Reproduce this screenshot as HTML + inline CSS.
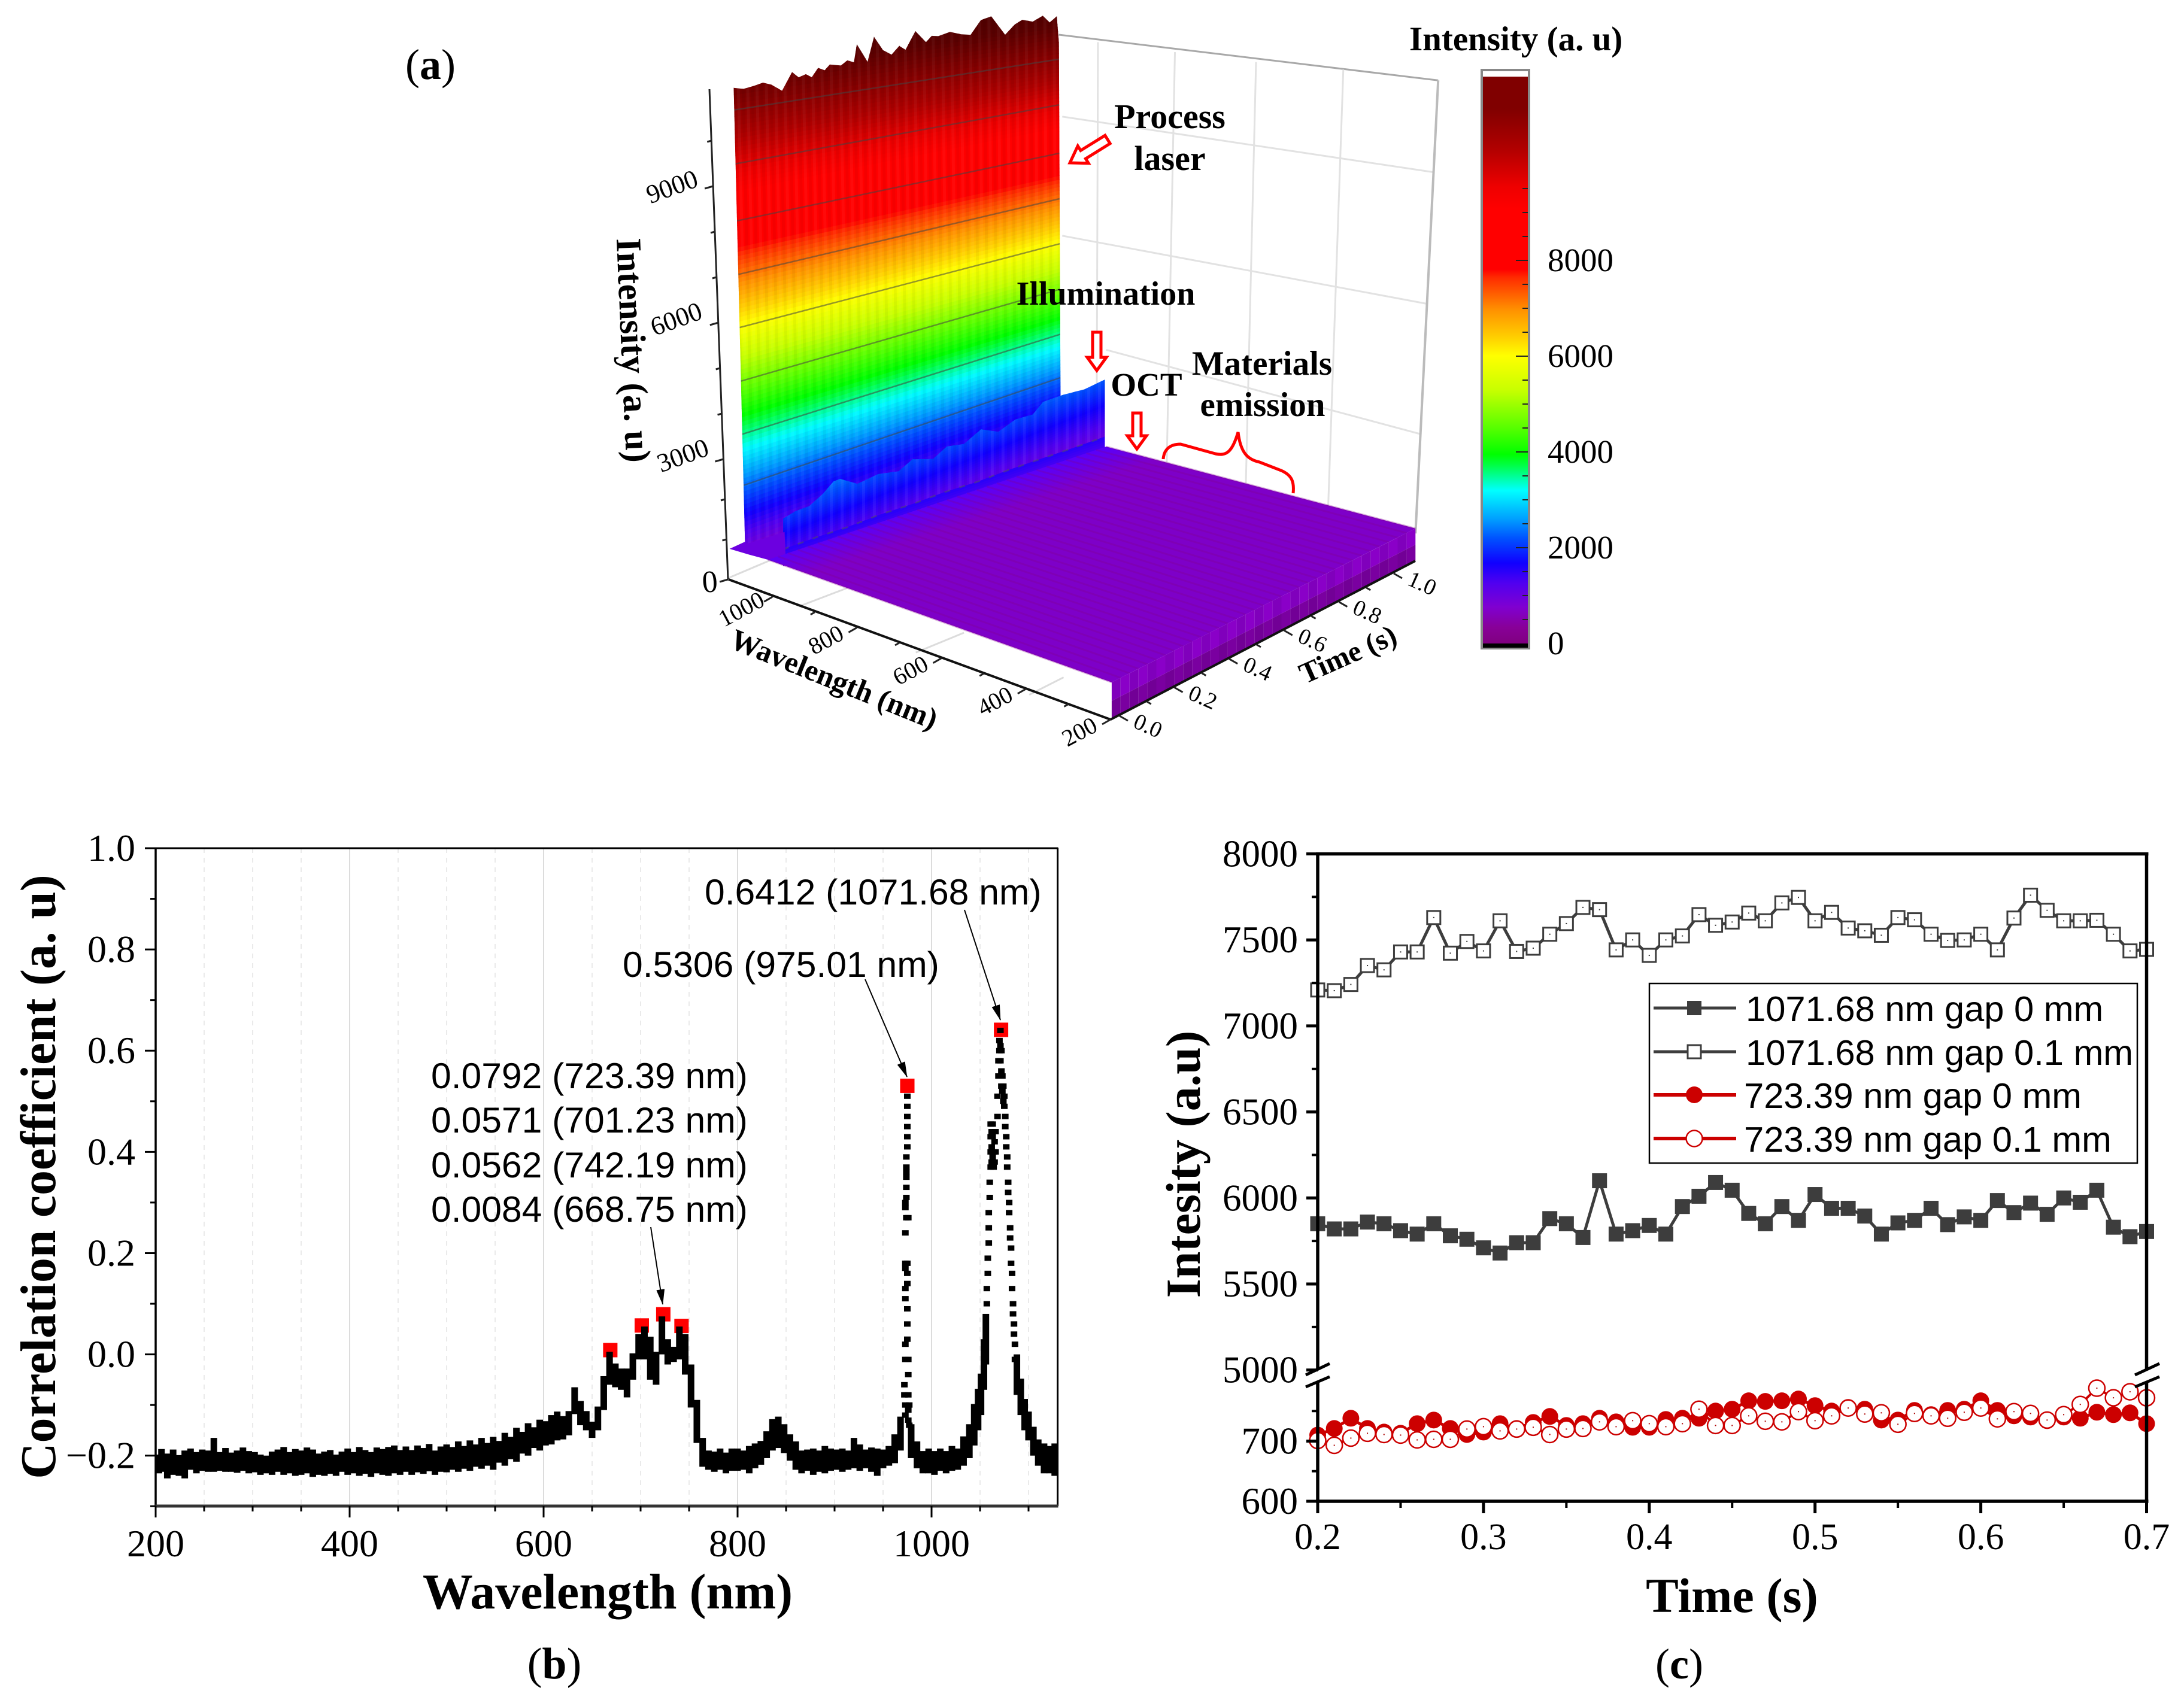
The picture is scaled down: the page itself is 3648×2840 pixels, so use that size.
<!DOCTYPE html>
<html lang="en">
<head>
<meta charset="utf-8">
<title>Spectral intensity and correlation figure</title>
<style>
html,body{margin:0;padding:0;background:#fff;}
svg{display:block;}
text{font-family:"Liberation Serif",serif;fill:#000;}
.sans{font-family:"Liberation Sans",sans-serif;}
</style>
</head>
<body>
<svg id="fig" xmlns="http://www.w3.org/2000/svg" width="3648" height="2840" viewBox="0 0 3648 2840">
<defs>
<marker id="ah" markerWidth="26" markerHeight="14" refX="25" refY="7" orient="auto" markerUnits="userSpaceOnUse"><path d="M0,0 L26,7 L0,14 Z" fill="#000"/></marker>
<linearGradient id="cbGrad" x1="0" y1="1" x2="0" y2="0"></linearGradient>
<linearGradient id="plateauGrad" gradientUnits="userSpaceOnUse" x1="1565" y1="841" x2="1579" y2="884"><stop offset="0" stop-color="#5a00f8"/><stop offset="1" stop-color="#7e00c8"/></linearGradient>
<clipPath id="wallClip"><polygon id="wallClipPoly" points="0,0"/></clipPath>
<clipPath id="ridgeClip"><polygon id="ridgeClipPoly" points="0,0"/></clipPath>
<clipPath id="octClip"><polygon id="octClipPoly" points="0,0"/></clipPath>
</defs>
<rect x="0" y="0" width="3648" height="2840" fill="#fff"/>

<g id="panelA"></g>
<g id="panelB"></g>
<g id="panelC"></g>

<g>
<text x="719" y="132" font-size="72" text-anchor="middle">(<tspan font-weight="bold">a</tspan>)</text>
<text x="2354" y="84" font-size="57" font-weight="bold">Intensity (a. u)</text>
<text x="1954" y="214" font-size="58" font-weight="bold" text-anchor="middle">Process</text>
<text x="1954" y="284" font-size="58" font-weight="bold" text-anchor="middle">laser</text>
<text x="1847" y="509" font-size="56" font-weight="bold" text-anchor="middle">Illumination</text>
<text x="1915" y="661" font-size="55" font-weight="bold" text-anchor="middle">OCT</text>
<text x="2108" y="626" font-size="57" font-weight="bold" text-anchor="middle">Materials</text>
<text x="2109" y="695" font-size="57" font-weight="bold" text-anchor="middle">emission</text>
<polygon transform="translate(1850,233) rotate(148.2)" points="0,-8 48,-8 48,-17 74,0 48,17 48,8 0,8" fill="#fff" stroke="#f00" stroke-width="5"/>
<polygon points="1825,555 1839,555 1839,597 1848,597 1832,619 1816,597 1825,597" fill="#fff" stroke="#f00" stroke-width="5"/>
<polygon points="1892,690 1906,690 1906,728 1915,728 1899,750 1883,728 1892,728" fill="#fff" stroke="#f00" stroke-width="5"/>
<path d="M1943,767 C1944,752 1953,742 1972,742 L2030,758 C2048,762 2058,756 2068,722 C2072,756 2084,768 2104,772 L2140,786 C2158,794 2162,805 2160,824" fill="none" stroke="#f00" stroke-width="5"/>
</g>

<g>
<text class="sans" x="1177" y="1511" font-size="60.6">0.6412 (1071.68 nm)</text>
<text class="sans" x="1040" y="1632" font-size="60.6">0.5306 (975.01 nm)</text>
<text class="sans" x="720" y="1818" font-size="60.6">0.0792 (723.39 nm)</text>
<text class="sans" x="720" y="1892" font-size="60.6">0.0571 (701.23 nm)</text>
<text class="sans" x="720" y="1967" font-size="60.6">0.0562 (742.19 nm)</text>
<text class="sans" x="720" y="2041" font-size="60.6">0.0084 (668.75 nm)</text>
<line x1="1611" y1="1520" x2="1671" y2="1704" stroke="#000" stroke-width="2" marker-end="url(#ah)"/>
<line x1="1445" y1="1636" x2="1515" y2="1799" stroke="#000" stroke-width="2" marker-end="url(#ah)"/>
<line x1="1087" y1="2050" x2="1107" y2="2179" stroke="#000" stroke-width="2" marker-end="url(#ah)"/>
<text x="1015" y="2687" font-size="84" font-weight="bold" text-anchor="middle">Wavelength (nm)</text>
<text transform="translate(92,1966) rotate(-90)" font-size="83.5" font-weight="bold" text-anchor="middle">Correlation coefficient (a. u)</text>
<text x="926" y="2804" font-size="74" text-anchor="middle">(<tspan font-weight="bold">b</tspan>)</text>
</g>

<g>
<text x="2893" y="2693" font-size="82" font-weight="bold" text-anchor="middle">Time (s)</text>
<text transform="translate(2004,1945) rotate(-90)" font-size="82" font-weight="bold" text-anchor="middle">Intesity (a.u)</text>
<text x="2805" y="2804" font-size="72" text-anchor="middle">(<tspan font-weight="bold">c</tspan>)</text>
</g>

<g id="legend">
<rect x="2755" y="1643" width="815" height="300" fill="#fff" stroke="#000" stroke-width="2.5"/>
<g>
<line x1="2762" y1="1684" x2="2900" y2="1684" stroke="#3d3d3d" stroke-width="5"/>
<rect x="2818" y="1672" width="24" height="24" fill="#3d3d3d"/>
<text class="sans" x="2916" y="1706" font-size="59.7">1071.68 nm gap 0 mm</text>
</g>
<g>
<line x1="2762" y1="1757" x2="2900" y2="1757" stroke="#3d3d3d" stroke-width="5"/>
<rect x="2819" y="1746" width="22" height="22" fill="#fff" stroke="#3d3d3d" stroke-width="3"/>
<text class="sans" x="2916" y="1779" font-size="59.7">1071.68 nm gap 0.1 mm</text>
</g>
<g>
<line x1="2762" y1="1829" x2="2900" y2="1829" stroke="#cc0000" stroke-width="6"/>
<circle cx="2830" cy="1829" r="14" fill="#cc0000"/>
<text class="sans" x="2913" y="1851" font-size="59.7">723.39 nm gap 0 mm</text>
</g>
<g>
<line x1="2762" y1="1902" x2="2900" y2="1902" stroke="#cc0000" stroke-width="6"/>
<circle cx="2830" cy="1902" r="13.5" fill="#fff" stroke="#cc0000" stroke-width="2.5"/>
<text class="sans" x="2913" y="1924" font-size="59.7">723.39 nm gap 0.1 mm</text>
</g>
</g>
</svg>

<script>
/* ---------- Panel (c) data ---------- */
const timeValues = [0.20,0.21,0.22,0.23,0.24,0.25,0.26,0.27,0.28,0.29,0.30,0.31,0.32,0.33,0.34,0.35,0.36,0.37,0.38,0.39,0.40,0.41,0.42,0.43,0.44,0.45,0.46,0.47,0.48,0.49,0.50,0.51,0.52,0.53,0.54,0.55,0.56,0.57,0.58,0.59,0.60,0.61,0.62,0.63,0.64,0.65,0.66,0.67,0.68,0.69,0.70];
const laserGap0 = [5850,5820,5820,5860,5850,5810,5790,5850,5780,5760,5710,5680,5740,5740,5880,5850,5770,6100,5790,5810,5840,5790,5950,6010,6090,6045,5910,5850,5950,5870,6020,5940,5940,5895,5790,5855,5870,5940,5845,5890,5870,5985,5915,5970,5905,6000,5975,6045,5830,5775,5805];
const laserGap01 = [7209,7205,7241,7351,7326,7430,7430,7630,7423,7491,7436,7611,7433,7452,7533,7595,7689,7676,7442,7500,7410,7500,7523,7647,7585,7604,7656,7611,7715,7747,7611,7660,7569,7553,7527,7630,7617,7533,7497,7500,7533,7442,7627,7760,7672,7611,7611,7614,7533,7436,7445];
const emissionGap0 = [710,721,738,721,715,713,729,735,721,711,715,729,721,731,741,726,729,738,732,723,723,736,738,738,750,753,767,766,767,770,759,750,756,753,735,735,751,744,751,753,767,751,742,740,734,740,738,748,744,747,729];
const emissionGap01 = [701,693,705,713,711,710,702,703,703,720,724,717,720,723,711,720,721,732,724,734,729,724,729,753,726,726,742,733,732,749,734,742,755,745,747,728,746,742,738,748,755,737,749,746,735,744,761,788,772,782,772];
const cXTicks = [0.2,0.3,0.4,0.5,0.6,0.7];
const cXMinorTicks = [0.25,0.35,0.45,0.55,0.65];
const cYUpperTicks = [5000,5500,6000,6500,7000,7500,8000];
const cYUpperMinor = [5250,5750,6250,6750,7250,7750];
const cYLowerTicks = [600,700];
const cYLowerMinor = [650,750];

/* ---------- Panel (b) data ---------- */
const bXTicks = [200,400,600,800,1000];
const bXMinorTicks = [250,300,350,450,500,550,650,700,750,850,900,950,1050,1100];
const bYTicks = [-0.2,0,0.2,0.4,0.6,0.8,1.0];
const bYMinorTicks = [-0.3,-0.1,0.1,0.3,0.5,0.7,0.9];
const peakWavelengths = [668.75,701.23,723.39,742.19,975.01,1071.68];
const peakValues = [0.0084,0.0571,0.0792,0.0562,0.5306,0.6412];
const bandWavelengths = [
200,206,212,218,224,230,236,242,248,254,
260,266,272,278,284,290,296,302,308,314,
320,326,332,338,344,350,356,362,368,374,
380,386,392,398,404,410,416,422,428,434,
440,446,452,458,464,470,476,482,488,494,
500,506,512,518,524,530,536,542,548,554,
560,566,572,578,584,590,596,602,608,614,
620,626,632,638,644,650,656,662,668,674,
680,686,692,698,704,710,716,722,728,734,
740,746,752,758,764,770,776,782,788,794,
800,806,812,818,824,830,836,842,848,854,
860,866,872,878,884,890,896,902,908,914,
920,926,932,938,944,950,956,962,968,
979,985,991,997,1003,1009,1015,1021,1027,1033,1039,1044,1048,1051,1054,1056,
1088,1092,1096,1100,1105,1110,1116,1122,1127];
const bandHigh = [
-.198,-.187,-.196,-.188,-.199,-.190,-.186,-.193,-.188,-.190,
-.165,-.193,-.185,-.194,-.190,-.184,-.191,-.193,-.198,-.200,
-.192,-.188,-.183,-.193,-.187,-.190,-.184,-.188,-.196,-.192,
-.189,-.198,-.192,-.186,-.193,-.183,-.189,-.193,-.184,-.187,
-.183,-.180,-.189,-.182,-.189,-.180,-.185,-.177,-.190,-.182,
-.178,-.183,-.172,-.181,-.170,-.178,-.165,-.175,-.163,-.171,
-.155,-.163,-.145,-.153,-.136,-.144,-.129,-.132,-.120,-.113,
-.122,-.112,-.065,-.092,-.112,-.133,-.103,-.043,.005,-.018,
-.028,-.028,.002,.040,.055,.035,.005,.075,.030,.015,
.055,.040,-.020,-.090,-.165,-.190,-.192,-.186,-.194,-.186,
-.186,-.190,-.181,-.176,-.171,-.152,-.128,-.123,-.138,-.158,
-.172,-.190,-.188,-.186,-.190,-.181,-.186,-.188,-.186,-.190,
-.165,-.178,-.188,-.184,-.186,-.188,-.181,-.158,-.123,
-.138,-.172,-.191,-.186,-.191,-.186,-.191,-.181,-.186,-.162,-.138,-.098,-.068,-.038,.030,.080,
.000,-.048,-.088,-.113,-.143,-.168,-.176,-.181,-.176];
const bandLow = [
-.235,-.232,-.245,-.238,-.240,-.245,-.228,-.235,-.230,-.232,
-.232,-.230,-.232,-.232,-.234,-.230,-.235,-.233,-.238,-.235,
-.238,-.232,-.238,-.235,-.240,-.238,-.235,-.242,-.238,-.240,
-.236,-.240,-.232,-.238,-.235,-.240,-.236,-.242,-.235,-.238,
-.240,-.235,-.238,-.232,-.238,-.233,-.236,-.231,-.238,-.232,
-.233,-.228,-.232,-.226,-.230,-.222,-.226,-.220,-.228,-.214,
-.220,-.207,-.212,-.196,-.200,-.185,-.190,-.180,-.178,-.170,
-.168,-.160,-.118,-.140,-.150,-.165,-.150,-.110,-.060,-.065,
-.070,-.085,-.050,-.010,-.010,-.050,-.060,.000,-.020,-.015,
-.010,-.040,-.105,-.175,-.222,-.228,-.232,-.228,-.235,-.230,
-.230,-.228,-.235,-.225,-.218,-.205,-.190,-.185,-.195,-.210,
-.228,-.235,-.230,-.238,-.232,-.235,-.230,-.228,-.232,-.228,
-.225,-.230,-.225,-.232,-.240,-.225,-.220,-.215,-.190,
-.205,-.225,-.235,-.235,-.238,-.230,-.235,-.230,-.228,-.220,-.205,-.180,-.150,-.120,-.070,-.020,
-.080,-.120,-.150,-.170,-.200,-.220,-.235,-.235,-.240];
const scatterWavelengths = [
1057,1057,1058,1058,1059,1059,1059,1060,1060,1061,1061,1061,1061,1062,1062,1062,1063,1063,1063,1064,1064,1065,1065,1066,1066,1068,1068,1069,1069,1070,1070,1071,1071,1071,1072,1072,1072,1073,1073,1074,1074,1075,1075,1076,1076,1077,1077,1078,1078,1079,1079,1080,1080,1081,1081,1082,1082,1083,1083,1084,1084,1085,1085,1086,1086,
975,975,975,975,975,975,974,974,974,974,974,974,973,973,974,976,973,973,973,975,975,975,973,973,975,975,975,973,973,976,976,972,972,973,973,976,976,976,977,977];
const scatterValues = [
.10,.13,.16,.19,.22,.25,.28,.31,.34,.37,.40,.43,.455,.38,.41,.44,.39,.43,.455,.37,.40,.38,.42,.40,.44,.47,.51,.55,.58,.60,.62,.64,.61,.58,.60,.56,.53,.55,.52,.53,.50,.51,.49,.47,.45,.43,.41,.39,.37,.34,.32,.30,.28,.25,.23,.21,.18,.16,.13,.10,.08,.06,.04,.02,-.01,
.51,.49,.47,.45,.43,.41,.39,.37,.36,.35,.33,.31,.30,.29,.27,.27,.24,.18,.17,.18,.16,.14,.13,.11,.09,.06,.03,.02,-.01,-.01,-.04,-.06,-.08,-.10,-.12,-.08,-.11,-.13,-.10,-.14];

/* ---------- Panel (a) data ---------- */
const colormapValues = [0,336,756,1260,1680,2185,2605,3193,3740,3950,4454,5294,6008,6386,6975,7647,7815,9075,9537,10336,11176,11866,12600];
const colormapColors = ['#800080','#880098','#8000d0','#5000f0','#1000ff','#0050ff','#00a0ff','#00ffff','#00ff40','#00ff00','#50ff00','#c8ff00','#ffff00','#ffd000','#ff9000','#ff2a00','#ff0000','#ff0000','#ee0000','#b00000','#800000','#5a0000','#4a0000'];
const colorbarTicks = [0,2000,4000,6000,8000];
const colorbarMinorTicks = [500,1000,1500,2500,3000,3500,4500,5000,5500,6500,7000,7500,8500,9000,9500];
const processTimes = [0,.03,.063,.09,.116,.148,.18,.2,.222,.24,.26,.28,.296,.33,.35,.37,.38,.412,.433,.46,.486,.51,.529,.56,.592,.61,.63,.666,.70,.729,.761,.793,.835,.865,.888,.92,.951,.972,.994,1];
const processIntensity = [11458,11400,11437,11480,11402,11224,11628,11480,11533,11440,11640,11560,11680,11620,11720,11653,12080,11616,12207,11850,11710,11900,11782,12214,11902,12040,12010,12079,11980,11934,12278,12342,11812,12050,12145,12060,12183,11976,12118,11400];
const illumTimes = [0,.038,.081,.124,.156,.177,.231,.295,.359,.402,.466,.509,.562,.615,.669,.722,.776,.808,.872,.936,1];
const illumIntensity = [2000,2052,2042,2188,2354,2354,2104,2135,2021,2156,1990,2135,2042,2208,2010,2125,2083,2260,2240,2177,2208];
const octTimes = [0,.1,.2,.3,.4,.5,.6,.7,.8,.9,1];
const octIntensity = [1250,1260,1245,1270,1250,1265,1240,1260,1255,1245,1250];
const contourLevels = [2335,3508,4727,5957,7175,8405,9715,10950];
const zTicks = [0,3000,6000,9000];
const zMinorTicks = [1000,2000,4000,5000,7000,8000,10000];
const wavelengthTicks3d = [1000,800,600,400,200];
const wavelengthMinor3d = [900,700,500,300];
const timeTicks3d = [0,0.2,0.4,0.6,0.8,1.0];
const timeMinor3d = [0.1,0.3,0.5,0.7,0.9];

/* ---------- helpers ---------- */
const NS = 'http://www.w3.org/2000/svg';
function mk(parent, tag, attrs){
  const el = document.createElementNS(NS, tag);
  for (const k in attrs) el.setAttribute(k, attrs[k]);
  parent.appendChild(el);
  return el;
}
function hex(c){return [parseInt(c.slice(1,3),16),parseInt(c.slice(3,5),16),parseInt(c.slice(5,7),16)];}
function colorAt(v){
  const n = colormapValues.length;
  if (v <= colormapValues[0]) return colormapColors[0];
  for (let i=1;i<n;i++){
    if (v <= colormapValues[i]){
      const f=(v-colormapValues[i-1])/(colormapValues[i]-colormapValues[i-1]);
      const a=hex(colormapColors[i-1]), b=hex(colormapColors[i]);
      return 'rgb('+a.map((x,j)=>Math.round(x+(b[j]-x)*f)).join(',')+')';
    }
  }
  return colormapColors[n-1];
}
const fig = document.getElementById('fig');

/* ========== PANEL C ========== */
const pc = document.getElementById('panelC');
const cLeft=2201, cRight=3585.5, cTop=1426.5, cBottom=2508;
function cx(t){return cLeft+(t-0.2)*2769;}
function cy(v){return v>=5000 ? 2288.7-(v-5000)*0.2874 : 2508-(v-600)*1.005;}

function drawCAxes(){
  const axisParts=[[cLeft,cTop,cLeft,2288],[cLeft,2308,cLeft,cBottom],[cRight,cTop,cRight,2288],[cRight,2308,cRight,cBottom],[cLeft-3,cTop,cRight+3,cTop],[cLeft-3,cBottom,cRight+3,cBottom]];
  axisParts.forEach(p=>{
    const el=mk(pc,'line',{x1:p[0],y1:p[1],x2:p[2],y2:p[3],stroke:'#000','stroke-width':5.5});
    
    
  });
  [[2181,2297,2221,2278],[2181,2317,2221,2300],[3566,2297,3607,2278],[3566,2317,3607,2300]].forEach(p=>{
    const el=mk(pc,'line',{x1:p[0],y1:p[1],x2:p[2],y2:p[3],stroke:'#000','stroke-width':5});
    
    
  });
  cXTicks.forEach(t=>{
    const tick=mk(pc,'line',{x1:cx(t),y1:cBottom,x2:cx(t),y2:cBottom+20,stroke:'#000','stroke-width':5});
    
    
    const lab=mk(pc,'text',{x:cx(t),y:2588,'font-size':62,'text-anchor':'middle'});
    lab.textContent=t.toFixed(1);
    
    
  });
  cXMinorTicks.forEach(t=>{
    const tick=mk(pc,'line',{x1:cx(t),y1:cBottom,x2:cx(t),y2:cBottom+11,stroke:'#000','stroke-width':4});
    
    
  });
  cYUpperTicks.concat(cYLowerTicks).forEach(v=>{
    const tick=mk(pc,'line',{x1:cLeft-19,y1:cy(v),x2:cLeft,y2:cy(v),stroke:'#000','stroke-width':5});
    
    
    const lab=mk(pc,'text',{x:2168,y:cy(v)+21,'font-size':63,'text-anchor':'end'});
    lab.textContent=String(v);
    
    
  });
  cYUpperMinor.concat(cYLowerMinor).forEach(v=>{
    const tick=mk(pc,'line',{x1:cLeft-10,y1:cy(v),x2:cLeft,y2:cy(v),stroke:'#000','stroke-width':4});
    
    
  });
}
function linePts(values){return values.map((v,i)=>cx(timeValues[i]).toFixed(1)+','+cy(v).toFixed(1)).join(' ');}
function drawCSeries(){
  const l1=mk(pc,'polyline',{points:linePts(laserGap0),fill:'none',stroke:'#3d3d3d','stroke-width':5});
  
  
  laserGap0.forEach((v,i)=>{
    const m=mk(pc,'rect',{x:cx(timeValues[i])-12.5,y:cy(v)-12.5,width:25,height:25,fill:'#3d3d3d'});
    
    
  });
  const l2=mk(pc,'polyline',{points:linePts(laserGap01),fill:'none',stroke:'#3d3d3d','stroke-width':5});
  
  
  laserGap01.forEach((v,i)=>{
    const m=mk(pc,'rect',{x:cx(timeValues[i])-11,y:cy(v)-11,width:22,height:22,fill:'#fff',stroke:'#3d3d3d','stroke-width':3});
    
    
    const d=mk(pc,'rect',{x:cx(timeValues[i])-1,y:cy(v)-1,width:2,height:2,fill:'#333'});
    
    
  });
  const l3=mk(pc,'polyline',{points:linePts(emissionGap0),fill:'none',stroke:'#cc0000','stroke-width':5});
  
  
  emissionGap0.forEach((v,i)=>{
    const m=mk(pc,'circle',{cx:cx(timeValues[i]),cy:cy(v),r:14,fill:'#cc0000'});
    
    
  });
  const l4=mk(pc,'polyline',{points:linePts(emissionGap01),fill:'none',stroke:'#cc0000','stroke-width':4});
  
  
  emissionGap01.forEach((v,i)=>{
    const m=mk(pc,'circle',{cx:cx(timeValues[i]),cy:cy(v),r:13.5,fill:'#fff',stroke:'#cc0000','stroke-width':2.5});
    
    
    const d=mk(pc,'rect',{x:cx(timeValues[i])-1,y:cy(v)-1,width:2,height:2,fill:'#a00'});
    
    
  });
}
drawCSeries();
drawCAxes();
fig.appendChild(document.getElementById('legend'));

/* ========== PANEL B ========== */
const pb = document.getElementById('panelB');
const bLeft=260, bRight=1766.6, bTop=1417, bBottom=2516;
function bx(w){return bLeft+(w-200)*1.62;}
function by(v){return 2262.6-845.6*v;}

function drawBGrid(){
  bXTicks.slice(1).forEach(w=>{
    const g=mk(pb,'line',{x1:bx(w),y1:bTop,x2:bx(w),y2:bBottom,stroke:'#dcdcdc','stroke-width':2});
    
    
  });
  bXMinorTicks.forEach(w=>{
    const g=mk(pb,'line',{x1:bx(w),y1:bTop,x2:bx(w),y2:bBottom,stroke:'#e4e4e4','stroke-width':1.5,'stroke-dasharray':'8 8'});
    
    
  });
}
function drawBAxes(){
  const frame=[[bLeft,bTop,bLeft,bBottom,3.5],[bRight,bTop,bRight,bBottom,3],[bLeft-1,bTop,bRight+1,bTop,3],[bLeft-1,bBottom,bRight+1,bBottom,5]];
  frame.forEach(p=>{
    const el=mk(pb,'line',{x1:p[0],y1:p[1],x2:p[2],y2:p[3],stroke:p===frame[3]?'#333':'#000','stroke-width':p[4]});
    
    
  });
  bXTicks.forEach(w=>{
    const t=mk(pb,'line',{x1:bx(w),y1:bBottom,x2:bx(w),y2:bBottom+19,stroke:'#000','stroke-width':3});
    
    
    const lab=mk(pb,'text',{x:bx(w),y:2600,'font-size':64,'text-anchor':'middle'});
    lab.textContent=String(w);
    
    
  });
  bXMinorTicks.forEach(w=>{
    const t=mk(pb,'line',{x1:bx(w),y1:bBottom,x2:bx(w),y2:bBottom+9,stroke:'#000','stroke-width':3});
    
    
  });
  bYTicks.forEach(v=>{
    const t=mk(pb,'line',{x1:bLeft-18,y1:by(v),x2:bLeft,y2:by(v),stroke:'#000','stroke-width':3});
    
    
    const lab=mk(pb,'text',{x:226,y:by(v)+21,'font-size':64,'text-anchor':'end'});
    lab.textContent=(v<0?'\u2212':'')+Math.abs(v).toFixed(1);
    
    
  });
  bYMinorTicks.forEach(v=>{
    const t=mk(pb,'line',{x1:bLeft-9,y1:by(v),x2:bLeft,y2:by(v),stroke:'#000','stroke-width':3});
    
    
  });
}
function drawBSeries(){
  peakWavelengths.forEach((w,i)=>{
    const r=mk(pb,'rect',{x:bx(w)-12,y:by(peakValues[i])-12,width:24,height:24,fill:'#ff0000'});
    
    
  });
  bandWavelengths.forEach((w,i)=>{
    const r=mk(pb,'rect',{x:Math.max(bLeft,bx(w)-5.5),y:by(bandHigh[i]),width:11,height:by(bandLow[i])-by(bandHigh[i]),fill:'#000'});
    
    
  });
  scatterWavelengths.forEach((w,i)=>{
    const r=mk(pb,'rect',{x:bx(w)-5.5,y:by(scatterValues[i])-4.5,width:11,height:9,fill:'#000'});
    
    
  });
}
drawBGrid();
drawBSeries();
drawBAxes();

/* ========== PANEL A ========== */
const pa = document.getElementById('panelA');
function zx(x){return 950+x*1.148;}
function zy(y){return y*0.829;}
function P(x,y){return zx(x).toFixed(1)+','+zy(y).toFixed(1);}

/* process-laser wall plane: t along time, v intensity */
function wallXY(t,v){
  const x=258+458*t+(-0.00157+0.00132*t)*v;
  const y=(1183-248*t)-(0.0878-0.0133*t)*v;
  return [x,y];
}
function wallPt(t,v){const p=wallXY(t,v);return P(p[0],p[1]);}
function ridgeXY(t,v){return [312+468*t, (1237-260*t)-0.096*v];}
function ridgePt(t,v){const p=ridgeXY(t,v);return P(p[0],p[1]);}
function octXY(t,v){return [312+468*t, (1227-227*t)-0.096*v];}
function octPt(t,v){const p=octXY(t,v);return P(p[0],p[1]);}

function drawWalls3d(){
  [[[713,70],[1265,162],'#a8a8a8',3],[[718,235],[1258,347],'#e2e2e2',3],[[718,475],[1248,612],'#e2e2e2',3],[[782,705],[1240,875],'#e2e2e2',3],
   [[770,85],[768,900],'#e2e2e2',3],[[882,105],[870,940],'#e2e2e2',3],[[1000,125],[985,985],'#e2e2e2',3],[[1127,140],[1105,1020],'#e2e2e2',3],[[1265,162],[1232,1075],'#bbbbbb',4]].forEach(g=>{
    const el=mk(pa,'line',{x1:zx(g[0][0]),y1:zy(g[0][1]),x2:zx(g[1][0]),y2:zy(g[1][1]),stroke:g[2],'stroke-width':g[3]});
    
    
  });
  [[[232,1165],[300,1125]],[[335,1222],[405,1185]],[[505,1315],[575,1275]],[[670,1400],[720,1365]]].forEach(g=>{
    const el=mk(pa,'line',{x1:zx(g[0][0]),y1:zy(g[0][1]),x2:zx(g[1][0]),y2:zy(g[1][1]),stroke:'#dcdcdc','stroke-width':3});
    
    
  });
}
function drawProcessWall(){
  const vBottom=900;
  const clip=processTimes.map((t,i)=>wallPt(t,processIntensity[i]));
  clip.push(wallPt(1,vBottom)); clip.push(wallPt(0,vBottom));
  document.getElementById('wallClipPoly').setAttribute('points',clip.join(' '));
  const g=mk(pa,'g',{'clip-path':'url(#wallClip)'});
  
  
  for(let v=vBottom;v<12600;v+=100){
    const c=colorAt(v+50);
    const band=mk(g,'polygon',{points:[wallPt(0,v),wallPt(1,v),wallPt(1,v+100),wallPt(0,v+100)].join(' '),fill:c,stroke:c,'stroke-width':1});
    
    
  }
  for(let i=0;i<=70;i++){
    const t=i/70;
    const s=mk(g,'line',{x1:zx(wallXY(t,vBottom)[0]),y1:zy(wallXY(t,vBottom)[1]),x2:zx(wallXY(t,12600)[0]),y2:zy(wallXY(t,12600)[1]),stroke:i%2?'rgba(255,255,255,.04)':'rgba(0,0,0,.04)','stroke-width':5});
    
    
  }
  contourLevels.forEach(v=>{
    const c=mk(g,'line',{x1:zx(wallXY(0,v)[0]),y1:zy(wallXY(0,v)[1]),x2:zx(wallXY(1,v)[0]),y2:zy(wallXY(1,v)[1]),stroke:'#444','stroke-opacity':.55,'stroke-width':2.5});
    
    
  });
}
function drawRidge(times,values,ptFn,clipId,name,vBottom){
  const pts=times.map((t,i)=>ptFn(t,values[i]));
  pts.push(ptFn(1,vBottom)); pts.push(ptFn(0,vBottom));
  document.getElementById(clipId).setAttribute('points',pts.join(' '));
  const g=mk(pa,'g',{'clip-path':'url(#'+(clipId==='ridgeClipPoly'?'ridgeClip':'octClip')+')'});
  
  
  return {g,vBottom};
}
function drawIlluminationRidge(){
  const r=drawRidge(illumTimes,illumIntensity,ridgePt,'ridgeClipPoly','illumination-surface',1000);
  for(let v=r.vBottom;v<2500;v+=50){
    const c=colorAt(v+25);
    const band=mk(r.g,'polygon',{points:[ridgePt(0,v),ridgePt(1,v),ridgePt(1,v+50),ridgePt(0,v+50)].join(' '),fill:c,stroke:c,'stroke-width':1});
    
    
  }
  for(let i=0;i<=60;i++){
    const a=ridgeXY(i/60,r.vBottom), b=ridgeXY(i/60,2500);
    const s=mk(r.g,'line',{x1:zx(a[0]),y1:zy(a[1]),x2:zx(b[0]),y2:zy(b[1]),stroke:i%2?'rgba(255,255,255,.06)':'rgba(0,0,0,.04)','stroke-width':5});
    
    
  }
}
function drawOctRidge(){
  const r=drawRidge(octTimes,octIntensity,octPt,'octClipPoly','oct-surface',900);
  for(let v=r.vBottom;v<1400;v+=50){
    const c=colorAt(Math.min(v+300,1500));
    const band=mk(r.g,'polygon',{points:[octPt(0,v),octPt(1,v),octPt(1,v+50),octPt(0,v+50)].join(' '),fill:c,stroke:c,'stroke-width':1});
    
    
  }
  const crest=mk(pa,'polyline',{points:octTimes.map((t,i)=>octPt(t,octIntensity[i])).join(' '),fill:'none',stroke:'#555','stroke-opacity':.45,'stroke-width':3,'stroke-dasharray':'10 16'});
  
  
}
function drawPlateau(){
  const F=[790,1375],R=[1232,1065],B=[782,900],L=[290,1128];
  const left=mk(pa,'polygon',{points:[P(234,1106),P(256,1092),P(259,1096),P(314,1072),P(316,1141),P(290,1128),P(263,1118)].join(' '),fill:'#6c00e0'});
  
  
  const top=mk(pa,'polygon',{points:[P(F[0],F[1]),P(R[0],R[1]),P(B[0],B[1]),P(L[0],L[1])].join(' '),fill:'url(#plateauGrad)'});
  
  
  const nSlices=34;
  for(let i=0;i<=nSlices;i++){
    const t=i/nSlices;
    const a=[F[0]+(R[0]-F[0])*t,F[1]+(R[1]-F[1])*t], b=[L[0]+(B[0]-L[0])*t,L[1]+(B[1]-L[1])*t];
    const s=mk(pa,'line',{x1:zx(a[0]),y1:zy(a[1]),x2:zx(b[0]),y2:zy(b[1]),stroke:'rgba(130,0,140,.3)','stroke-width':3});
    
    
  }
  for(let i=0;i<nSlices;i++){
    const t0=i/nSlices,t1=(i+1)/nSlices;
    const x0=F[0]+(R[0]-F[0])*t0,x1=F[0]+(R[0]-F[0])*t1;
    const y0=F[1]+(R[1]-F[1])*t0,y1=F[1]+(R[1]-F[1])*t1;
    const h0=75-10*t0,h1=75-10*t1;
    const top0=mk(pa,'polygon',{points:[P(x0,y0),P(x1,y1),P(x1,y1+h1/2),P(x0,y0+h0/2)].join(' '),fill:i%2?'#8a00c8':'#8000bc'});
    
    
    const bot0=mk(pa,'polygon',{points:[P(x0,y0+h0/2),P(x1,y1+h1/2),P(x1,y1+h1),P(x0,y0+h0)].join(' '),fill:i%2?'#7a00a0':'#720096'});
    
    
  }
}
function zAxisY(v){
  /* ticks 3000..9000 are evenly spaced; the base tick sits on the floor corner */
  return v>=3000 ? 995-0.076*v : 968-(968-767)*v/3000;
}
function zAxisX(y){return 1216-(966-y)*0.0380;}
function wlXY(w){return [1855-(w-200)*0.706, 1202-(w-200)*0.256];}
function tXY(t){return [1870+458*t, 1196-238*t];}
function drawAxes3d(){
  const zl=mk(pa,'line',{x1:1216,y1:968,x2:1185,y2:149,stroke:'#222','stroke-width':3});
  
  
  const wl=mk(pa,'line',{x1:1217,y1:968,x2:1855,y2:1202,stroke:'#111','stroke-width':4});
  
  
  const tl=mk(pa,'line',{x1:1855,y1:1202,x2:2364,y2:937,stroke:'#111','stroke-width':4});
  
  
  const zLabelPos={0:[1186,977],3000:[1142,765],6000:[1131,537],9000:[1124,316]};
  zTicks.forEach(v=>{
    const y=zAxisY(v),x=zAxisX(y);
    const t=mk(pa,'line',{x1:x-14,y1:y+4,x2:x,y2:y,stroke:'#222','stroke-width':3});
    
    
    const pos=zLabelPos[v];
    const lab=mk(pa,'text',{transform:'translate('+pos[0]+','+pos[1]+') rotate('+(v===0?-4:-20)+')','font-size':v===0?52:44,'text-anchor':'middle','dominant-baseline':'middle'});
    lab.textContent=String(v);
    
    
  });
  zMinorTicks.forEach(v=>{
    const y=zAxisY(v),x=zAxisX(y);
    const t=mk(pa,'line',{x1:x-7,y1:y+2,x2:x,y2:y,stroke:'#222','stroke-width':3});
    
    
  });
  wavelengthTicks3d.forEach(w=>{
    const p=wlXY(w);
    const t=mk(pa,'line',{x1:p[0],y1:p[1],x2:p[0]-14,y2:p[1]+8,stroke:'#222','stroke-width':3});
    
    
    const lab=mk(pa,'text',{transform:'translate('+(p[0]-50)+','+(p[1]+24)+') rotate(-28)','font-size':40,'text-anchor':'middle','dominant-baseline':'middle',fill:'#222'});
    lab.textContent=String(w);
    
    
  });
  wavelengthMinor3d.forEach(w=>{
    const p=wlXY(w);
    const t=mk(pa,'line',{x1:p[0],y1:p[1],x2:p[0]-7,y2:p[1]+4,stroke:'#222','stroke-width':3});
    
    
  });
  timeTicks3d.forEach(v=>{
    const p=tXY(v);
    const t=mk(pa,'line',{x1:p[0],y1:p[1],x2:p[0]+14,y2:p[1]+8,stroke:'#222','stroke-width':3});
    
    
    const lab=mk(pa,'text',{transform:'translate('+(p[0]+46)+','+(p[1]+20)+') rotate(24)','font-size':38,'text-anchor':'middle','dominant-baseline':'middle',fill:'#222'});
    lab.textContent=v.toFixed(1);
    
    
  });
  timeMinor3d.forEach(v=>{
    const p=tXY(v);
    const t=mk(pa,'line',{x1:p[0],y1:p[1],x2:p[0]+7,y2:p[1]+4,stroke:'#222','stroke-width':3});
    
    
  });
  const wt=mk(pa,'text',{transform:'translate(1387,1150) rotate(22)','font-size':50,'font-weight':'bold','text-anchor':'middle'});
  wt.textContent='Wavelength (nm)';
  
  
  const tt=mk(pa,'text',{transform:'translate(2258,1108) rotate(-24)','font-size':49,'font-weight':'bold','text-anchor':'middle'});
  tt.textContent='Time (s)';
  
  
  const it=mk(pa,'text',{transform:'translate(1038,586) rotate(87.5)','font-size':60,'font-weight':'bold','text-anchor':'middle'});
  it.textContent='Intensity (a. u)';
  
  
}
function drawColorbar(){
  const L=2475,R=2554,yZero=1075,perUnit=0.08,yTop=128;
  const yOf=v=>yZero-v*perUnit;
  const grad=document.getElementById('cbGrad');
  const span=(yZero-yTop)/perUnit;
  colormapValues.forEach((v,i)=>{
    if(v>span) return;
    const st=document.createElementNS(NS,'stop');
    st.setAttribute('offset',(v/span).toFixed(4));
    st.setAttribute('stop-color',colormapColors[i]);
    grad.appendChild(st);
  });
  const frame=mk(pa,'rect',{x:L,y:117,width:R-L,height:966,fill:'#fff',stroke:'#888','stroke-width':4});
  
  
  const bar=mk(pa,'rect',{x:L+2,y:yTop,width:R-L-4,height:yZero-yTop,fill:'url(#cbGrad)'});
  
  
  const under=mk(pa,'rect',{x:L+2,y:yZero,width:R-L-4,height:7,fill:'#000'});
  
  
  colorbarTicks.forEach(v=>{
    if(v>0){
      const t=mk(pa,'line',{x1:R-22,y1:yOf(v),x2:R-2,y2:yOf(v),stroke:'#222','stroke-width':2});
      
      
    }
    const lab=mk(pa,'text',{x:2585,y:yOf(v)+18,'font-size':55});
    lab.textContent=String(v);
    
    
  });
  colorbarMinorTicks.forEach(v=>{
    const t=mk(pa,'line',{x1:R-11,y1:yOf(v),x2:R-2,y2:yOf(v),stroke:'#222','stroke-width':2});
    
    
  });
}
drawWalls3d();
drawProcessWall();
drawIlluminationRidge();
drawOctRidge();
drawPlateau();
drawAxes3d();
drawColorbar();
</script>
</body>
</html>
